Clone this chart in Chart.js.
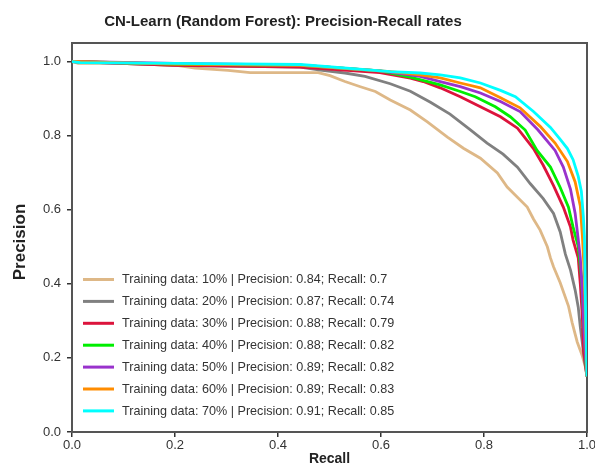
<!DOCTYPE html>
<html>
<head>
<meta charset="utf-8">
<script src="https://cdn.jsdelivr.net/npm/chart.js@4.4.0/dist/chart.umd.min.js"></script>
<style>
    html, body { margin: 0; padding: 0; background: #fff; }
    canvas { display: block; }
</style>
</head>
<body>
<canvas id="prChart" width="595" height="474"></canvas>
<script>
// ── Datos ─────────────────────────────────────────────────────
const chartTitle = 'CN-Learn (Random Forest): Precision-Recall rates';
const xTicks = [0, 0.2, 0.4, 0.6, 0.8, 1.0];
const yTicks = [0, 0.2, 0.4, 0.6, 0.8, 1.0];

const labels = [
    'Training data: 10% | Precision: 0.84; Recall: 0.7',
    'Training data: 20% | Precision: 0.87; Recall: 0.74',
    'Training data: 30% | Precision: 0.88; Recall: 0.79',
    'Training data: 40% | Precision: 0.88; Recall: 0.82',
    'Training data: 50% | Precision: 0.89; Recall: 0.82',
    'Training data: 60% | Precision: 0.89; Recall: 0.83',
    'Training data: 70% | Precision: 0.91; Recall: 0.85',
];
const colors = ['#DEB887', '#808080', '#DC143C', '#00EE00', '#9932CC', '#FF8C00', '#00FFFF'];

const recall10 = [0, .012, .093, .2, .239, .303, .346, .478, .501, .530, .560, .589, .618, .657, .690, .729, .760, .793, .826, .845, .884, .896, .909, .923, .929, .935, .948, .964, .971, .981, .991, .997, 1.0];
const prec10   = [1.0, .995, .995, .99, .982, .976, .970, .970, .962, .946, .932, .919, .896, .869, .837, .796, .766, .739, .699, .661, .607, .575, .545, .50, .47, .446, .403, .34, .296, .243, .205, .175, .15];

const recall20 = [0, .2, .443, .482, .530, .569, .618, .657, .696, .734, .773, .806, .837, .865, .890, .915, .935, .948, .958, .968, .977, .983, .987, .991, .995, 1.0];
const prec20   = [1.0, .99, .985, .977, .969, .96, .94, .92, .89, .858, .816, .78, .75, .715, .67, .63, .59, .54, .48, .437, .383, .337, .283, .24, .194, .15];

const recall30 = [0, .2, .443, .598, .657, .682, .715, .754, .793, .832, .865, .896, .915, .935, .954, .968, .973, .983, .987, .991, .993, 1.0];
const prec30   = [1.0, .99, .985, .97, .955, .946, .929, .905, .878, .851, .82, .765, .72, .665, .607, .553, .518, .47, .40, .31, .22, .15];

const recall40 = [0, .2, .443, .598, .657, .715, .754, .783, .822, .851, .880, .903, .929, .948, .964, .973, .983, .989, .993, .997, 1.0];
const prec40   = [1.0, .993, .99, .975, .958, .937, .919, .905, .878, .851, .815, .76, .715, .66, .607, .553, .50, .42, .32, .20, .15];

const recall50 = [0, .2, .443, .598, .676, .715, .754, .793, .832, .870, .905, .938, .954, .968, .977, .983, .987, .991, .995, 1.0];
const prec50   = [1.0, .995, .99, .975, .96, .946, .932, .915, .892, .865, .815, .76, .715, .655, .59, .52, .47, .38, .25, .15];

const recall60 = [0, .2, .443, .618, .676, .715, .754, .793, .832, .870, .909, .938, .962, .977, .987, .991, .995, .997, 1.0];
const prec60   = [1.0, .993, .99, .973, .964, .956, .942, .929, .902, .875, .825, .78, .73, .675, .61, .53, .42, .30, .15];

const recall70 = [0, .016, .2, .443, .618, .676, .715, .754, .793, .832, .861, .896, .929, .948, .962, .973, .983, .989, .993, .995, .997, 1.0];
const prec70   = [1.0, .997, .995, .992, .973, .969, .964, .956, .942, .922, .905, .865, .822, .79, .765, .735, .69, .65, .58, .527, .35, .15];

const recalls = [recall10, recall20, recall30, recall40, recall50, recall60, recall70];
const precisions = [prec10, prec20, prec30, prec40, prec50, prec60, prec70];

// ── Estilos ───────────────────────────────────────────────────
const FONT = '"Liberation Sans", Arial, sans-serif';

const decor = {
    id: 'decor',
    beforeDatasetsDraw(chart) {
        const { ctx, chartArea: a } = chart;
        ctx.save();
        ctx.strokeStyle = '#555';
        ctx.lineWidth = 2;
        ctx.strokeRect(a.left, a.top, a.right - a.left, a.bottom - a.top);
        ctx.restore();
    },
    afterDraw(chart) {
        const { ctx, chartArea: a } = chart;
        ctx.save();
        ctx.fillStyle = '#222';
        ctx.textAlign = 'center';
        ctx.textBaseline = 'middle';
        ctx.font = `bold 15px ${FONT}`;
        ctx.fillText(chartTitle, 283, 22);

        ctx.font = `bold 14px ${FONT}`;
        ctx.fillText('Recall', (a.left + a.right) / 2, 459);

        ctx.save();
        ctx.translate(20, 242);
        ctx.rotate(-Math.PI / 2);
        ctx.font = `bold 17px ${FONT}`;
        ctx.fillText('Precision', 0, 0);
        ctx.restore();

        // leyenda
        ctx.textAlign = 'left';
        ctx.font = `12.6px ${FONT}`;
        labels.forEach((lbl, i) => {
            const y = 279.5 + i * 21.9;
            ctx.strokeStyle = colors[i];
            ctx.lineWidth = 3;
            ctx.beginPath();
            ctx.moveTo(83, y); ctx.lineTo(114, y);
            ctx.stroke();
            ctx.fillStyle = '#333';
            ctx.fillText(lbl, 122, y + 0.5);
        });
        ctx.restore();
    }
};

const datasets = labels.map((lbl, i) => ({
    label: lbl,
    data: recalls[i].map((r, j) => ({ x: r, y: precisions[i][j] })),
    borderColor: colors[i],
    borderWidth: 2.8,
    pointRadius: 0,
    tension: 0,
    fill: false,
    order: labels.length - i,
}));

const axisTicks = { font: { size: 13, family: FONT }, color: '#333', autoSkip: false, maxRotation: 0,
    callback: v => Number(v).toFixed(1) };
const axisGrid = { display: true, drawOnChartArea: false, drawTicks: true, tickLength: 5, color: '#333', lineWidth: 1.5 };

new Chart(document.getElementById('prChart').getContext('2d'), {
    type: 'line',
    data: { datasets },
    options: {
        responsive: false, animation: false, devicePixelRatio: 1,
        layout: { padding: { top: 43, right: 8, left: 0, bottom: 0 } },
        plugins: { legend: { display: false }, title: { display: false }, tooltip: { enabled: false } },
        scales: {
            x: {
                type: 'linear', min: 0, max: 1,
                afterFit: s => { s.height = 42; s.paddingLeft = 0; s.paddingRight = 0; },
                afterBuildTicks: s => { s.ticks = xTicks.map(v => ({ value: v })); },
                ticks: { ...axisTicks, padding: 1 },
                grid: axisGrid,
                border: { display: false },
            },
            y: {
                type: 'linear', min: 0, max: 1.05,
                afterFit: s => { s.width = 72; s.paddingTop = 0; s.paddingBottom = 0; },
                afterBuildTicks: s => { s.ticks = yTicks.map(v => ({ value: v })); },
                ticks: { ...axisTicks, padding: 6 },
                grid: axisGrid,
                border: { display: false },
            }
        }
    },
    plugins: [decor]
});
</script>
</body>
</html>
